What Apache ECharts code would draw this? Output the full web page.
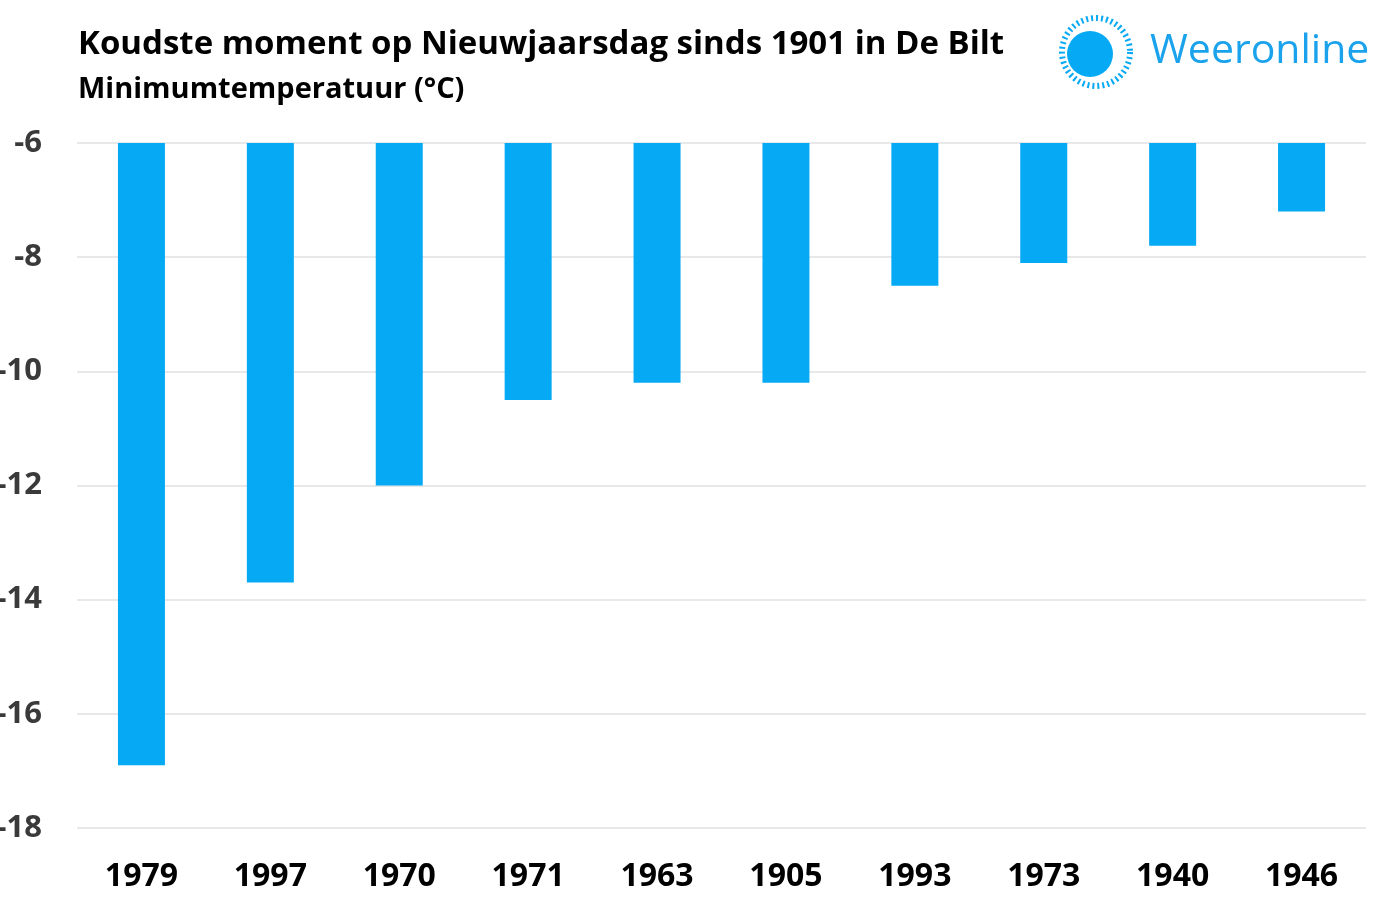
<!DOCTYPE html>
<html style="height: 100%">
<head>
    <meta charset="utf-8">
</head>
<body style="height: 100%; margin: 0; background: #fff">
<div id="container" style="height:100%"></div>
<script type="text/javascript" src="https://cdn.jsdelivr.net/npm/echarts@6/dist/echarts.min.js"></script>
<script type="text/javascript">

    var years = ['1979', '1997', '1970', '1971', '1963', '1905', '1993', '1973', '1940', '1946'];
    var minTemp = [-16.9, -13.7, -12.0, -10.5, -10.2, -10.2, -8.5, -8.1, -7.8, -7.2];
    var yTicks = [-18, -16, -14, -12, -10, -8, -6];

    var dom = document.getElementById("container");
    var myChart = echarts.init(dom);

    var option = {
        backgroundColor: '#ffffff',
        animation: false,
        title: {
            text: 'Koudste moment op Nieuwjaarsdag sinds 1901 in De Bilt',
            subtext: 'Minimumtemperatuur (°C)',
            left: 73,
            top: 23,
            itemGap: 14,
            textStyle: {
                fontFamily: 'Open Sans',
                fontWeight: 'bold',
                fontSize: 33,
                color: '#000'
            },
            subtextStyle: {
                fontFamily: 'Open Sans',
                fontWeight: 'bold',
                fontSize: 29,
                color: '#000'
            }
        },
        grid: {
            left: 77,
            right: 25,
            top: 143,
            bottom: 83,
            containLabel: false,
            outerBoundsMode: 'none'
        },
        xAxis: {
            type: 'category',
            data: years,
            axisLine: {show: false},
            axisTick: {show: false},
            axisLabel: {
                margin: 33,
                fontFamily: 'Open Sans',
                fontWeight: 'bold',
                fontSize: 32,
                color: '#000'
            }
        },
        yAxis: {
            type: 'value',
            min: yTicks[0],
            max: yTicks[yTicks.length - 1],
            interval: 2,
            axisLine: {show: false},
            axisTick: {show: false},
            splitLine: {lineStyle: {color: '#e6e8ea', width: 2}},
            axisLabel: {
                margin: 35,
                fontFamily: 'Open Sans',
                fontWeight: 'bold',
                fontSize: 31,
                color: '#3a3a3a'
            }
        },
        series: [{
            type: 'bar',
            data: minTemp,
            barWidth: 47,
            clip: true,
            itemStyle: {color: '#06a9f4'}
        }],
        graphic: [
            {
                type: 'circle',
                shape: {cx: 1090, cy: 54, r: 23},
                style: {fill: '#06a9f4'}
            },
            {
                type: 'circle',
                shape: {cx: 1096, cy: 52, r: 34},
                style: {fill: 'none', stroke: '#06a9f4', lineWidth: 6, lineDash: [2, 3]}
            },
            {
                type: 'text',
                left: 1150,
                top: 31,
                style: {
                    text: 'Weeronline',
                    fontFamily: 'Open Sans',
                    fontSize: 41,
                    fill: '#1aa3ec'
                }
            }
        ]
    };

    myChart.setOption(option);

</script>
</body>
</html>
